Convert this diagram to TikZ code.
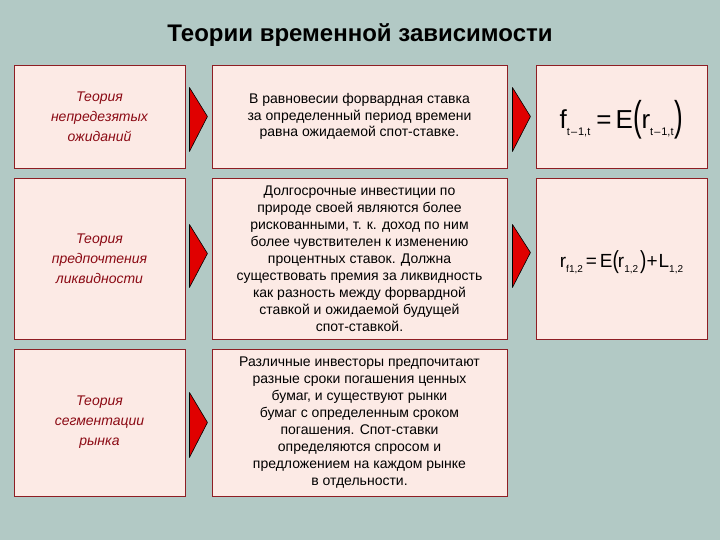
\documentclass[tikz,border=0pt]{standalone}
\usepackage{fontspec}
\usepackage{graphicx}
\setmainfont{Liberation Sans}
\usetikzlibrary{calc}
\definecolor{bg}{HTML}{B2C9C5}
\definecolor{boxfill}{HTML}{FCEAE5}
\definecolor{boxline}{HTML}{8E1E24}
\definecolor{darkred}{HTML}{8B0A14}
\definecolor{arrred}{HTML}{E00000}
\tikzset{
  box/.style={draw=boxline, fill=boxfill, line width=0.9pt, inner sep=0pt, align=center},
  theory/.style={box, minimum width=171pt, font=\fontsize{14}{20}\selectfont\itshape, text=darkred},
  descr/.style={box, minimum width=295pt, font=\fontsize{14}{16.5}\selectfont, text=black},
  formula/.style={box, minimum width=171pt, text=black},
  chevron/.style={fill=arrred, draw=black, line width=0.6pt, line join=round},
}
\newcommand{\sbs}[2]{\raisebox{-0.3em}{\fontsize{#1}{#1}\selectfont #2}}
\newcommand{\tallp}[2]{\raisebox{-0.08em}{\scalebox{1}[#1]{#2}}}
\begin{document}
\begin{tikzpicture}[x=1pt, y=-1pt]
\fill[bg] (0,0) rectangle (720,540);
\useasboundingbox (0,0) rectangle (720,540);

\node[font=\fontsize{24}{28}\selectfont\bfseries] (title) at (360,35) {Теории временной зависимости};

% row 1
\node[theory, minimum height=103pt] (l1) at (99.5,116.5) {Теория\\непредезятых\\ожиданий};
\node[descr, minimum height=103pt] (m1) at (359.5,116.5) {В равновесии форвардная ставка\\за определенный период времени\\равна ожидаемой спот-ставке.};
\node[formula, minimum height=103pt] (r1) at (621.5,116.5) {};
\node[font=\fontsize{26}{28}\selectfont, inner sep=0pt] (f1) at ($(r1.center)+(0,3)$) {f\sbs{11}{t\kern1pt–\kern1pt1,t}\kern6pt=\kern4ptE\kern1pt\tallp{1.6}{(}\kern-1ptr\sbs{11}{t\kern1pt–\kern1pt1,t}\kern1pt\tallp{1.6}{)}};

% row 2
\node[theory, minimum height=161pt] (l2) at (99.5,258.5) {Теория\\предпочтения\\ликвидности};
\node[descr, minimum height=161pt, font=\fontsize{14}{17}\selectfont] (m2) at (359.5,258.5) {Долгосрочные инвестиции по\\природе своей являются более\\рискованными, т. к. доход по ним\\более чувствителен к изменению\\процентных ставок. Должна\\существовать премия за ликвидность\\как разность между форвардной\\ставкой и ожидаемой будущей\\спот-ставкой.};
\node[formula, minimum height=161pt] (r2) at (621.5,258.5) {};
\node[font=\fontsize{19}{22}\selectfont, inner sep=0pt] (f2) at ($(r2.center)+(0,4)$) {r\sbs{10}{f1,2}\kern3pt=\kern3ptE\tallp{1.3}{(}\kern-1ptr\sbs{10}{1,2}\kern2pt\tallp{1.3}{)}\kern0pt+\kern1ptL\sbs{10}{1,2}};

% row 3
\node[theory, minimum height=147pt] (l3) at (99.5,422.5) {Теория\\сегментации\\рынка};
\node[descr, minimum height=147pt, font=\fontsize{14}{17}\selectfont] (m3) at (359.5,422.5) {Различные инвесторы предпочитают\\разные сроки погашения ценных\\бумаг, и существуют рынки\\бумаг с определенным сроком\\погашения. Спот-ставки\\определяются спросом и\\предложением на каждом рынке\\в отдельности.};

% arrows
\draw[chevron] ($(l1.east)+(4,-29)$) -- ($(l1.east)+(22,0)$) -- ($(l1.east)+(4,35)$) -- cycle;
\draw[chevron] ($(m1.east)+(5,-29)$) -- ($(m1.east)+(23,0)$) -- ($(m1.east)+(5,35)$) -- cycle;
\draw[chevron] ($(l2.east)+(4,-34)$) -- ($(l2.east)+(22,-5)$) -- ($(l2.east)+(4,29)$) -- cycle;
\draw[chevron] ($(m2.east)+(5,-34)$) -- ($(m2.east)+(23,-6)$) -- ($(m2.east)+(5,29)$) -- cycle;
\draw[chevron] ($(l3.east)+(4,-30)$) -- ($(l3.east)+(22,0)$) -- ($(l3.east)+(4,35)$) -- cycle;
\end{tikzpicture}
\end{document}
